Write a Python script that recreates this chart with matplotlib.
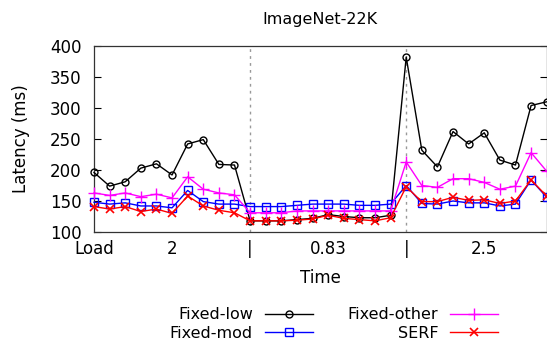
import numpy as np
import matplotlib
matplotlib.use('Agg')
import matplotlib.pyplot as plt

# latency (ms) per time step
fixed_low = [196, 174, 181, 203, 210, 192, 242, 249, 209, 208,
             118, 118, 118, 120, 122, 128, 125, 123, 123, 127,
             382, 232, 205, 262, 242, 260, 216, 208, 304, 310]
fixed_mod = [148, 145, 147, 142, 142, 139, 167, 149, 145, 145,
             141, 141, 141, 143, 145, 145, 145, 143, 143, 145,
             175, 146, 145, 150, 147, 147, 142, 145, 184, 156]
fixed_other = [163, 159, 163, 157, 161, 155, 189, 169, 163, 160,
               131, 131, 131, 134, 134, 134, 134, 134, 134, 134,
               213, 175, 172, 186, 186, 180, 169, 174, 228, 198]
serf = [141, 137, 141, 133, 137, 130, 158, 142, 135, 131,
        118, 118, 118, 119, 121, 127, 122, 120, 118, 123,
        173, 149, 149, 156, 151, 152, 146, 150, 184, 158]

tick_pos = [0, 5, 10, 15, 20, 25]
tick_labels = ['Load', '2', '|', '0.83', '|', '2.5']
phase_breaks = [10, 20]

plt.rcParams['font.family'] = 'DejaVu Sans'
plt.rcParams['font.size'] = 12

fig = plt.figure(figsize=(5.47, 3.41), dpi=100)
ax = fig.add_axes([94 / 547, 1 - 232 / 341, 452.7 / 547, 186 / 341])

x = np.arange(len(fixed_low))
for xb in phase_breaks:
    ax.axvline(xb, color='#999999', lw=1, ls=(0, (2, 3)), zorder=1)

ax.plot(x, fixed_low, color='black', lw=1, marker='o', ms=5, mfc='none', mew=1,
        label='Fixed-low', clip_on=False, zorder=3)
ax.plot(x, fixed_mod, color='#0000ff', lw=1, marker='s', ms=5.5, mfc='none', mew=1,
        label='Fixed-mod', clip_on=False, zorder=3)
ax.plot(x, fixed_other, color='#ff00ff', lw=1, marker='+', ms=8, mew=1,
        label='Fixed-other', clip_on=False, zorder=3)
ax.plot(x, serf, color='#ff0000', lw=1, marker='x', ms=6, mew=1.2,
        label='SERF', clip_on=False, zorder=3)

ax.set_xlim(0, 29)
ax.set_ylim(100, 400)
ax.set_yticks(np.arange(100, 401, 50))
ax.set_xticks(tick_pos)
ax.set_xticklabels(tick_labels)
ax.tick_params(axis='y', direction='in', length=5, width=0.8, right=True, pad=9, labelsize=12)
ax.tick_params(axis='x', length=0, pad=6, labelsize=12)
for s in ax.spines.values():
    s.set_linewidth(0.9)
    s.set_color('#333333')

ax.set_ylabel('Latency (ms)', fontsize=12, labelpad=14)
ax.set_xlabel('Time', fontsize=12, labelpad=8)
ax.set_title('ImageNet-22K', fontsize=11.5, pad=16)

fig.legend(loc='center', bbox_to_anchor=(334 / 547, 1 - 324 / 341), ncol=2,
           frameon=False, markerfirst=False, handlelength=3.0, handletextpad=0.75,
           columnspacing=2.2, labelspacing=0.2, borderpad=0, fontsize=11.5)

fig.savefig('out.png', dpi=100)
